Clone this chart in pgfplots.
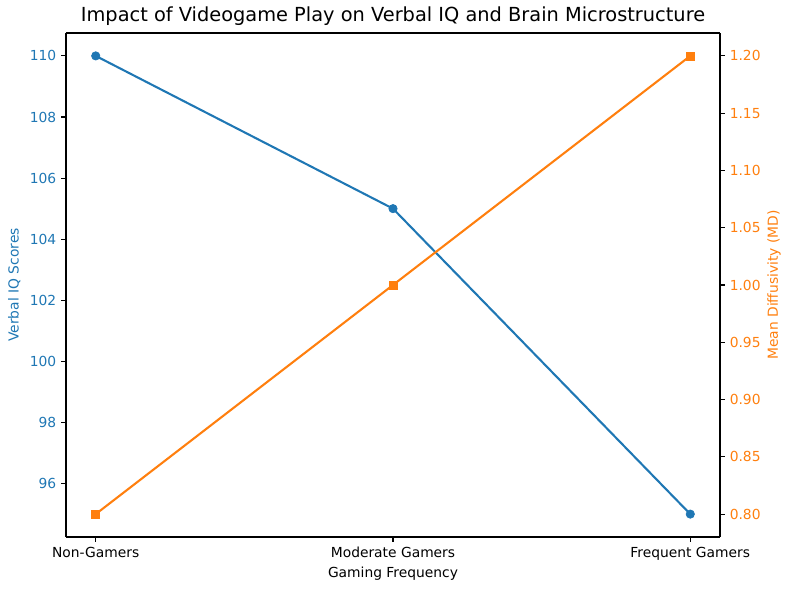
\documentclass[border=0pt]{standalone}
\usepackage{fontspec}
\setmainfont{DejaVu Sans}
\usepackage{pgfplots}
\pgfplotsset{compat=1.18}
\definecolor{cA}{HTML}{1F77B4}
\definecolor{cB}{HTML}{FF7F0E}
\begin{document}
\fontsize{10}{12}\selectfont
\begin{tikzpicture}[x=1bp,y=1bp]
\pgfplotsset{
  every axis/.style={
    scale only axis, width=470.9bp, height=362.9bp,
    xmin=-0.1, xmax=2.1,
    axis line style={line width=0.8bp},
    tick style={line width=0.8bp, black},
    major tick length=3.5bp,
    tick align=outside,
    /pgf/number format/assume math mode=true,
    tick label style={font=\fontsize{10}{12}\selectfont},
    label style={font=\fontsize{10}{12}\selectfont},
  }
}
\begin{axis}[
  name=main,
  ymin=94.25, ymax=110.75,
  ytick={96,98,...,110},
  xtick={0,1,2},
  xticklabels={Non-Gamers,Moderate Gamers,Frequent Gamers},
  axis y line*=left, axis x line*=bottom,
  yticklabel style={text=cA},
  ylabel={Verbal IQ Scores}, ylabel style={text=cA},
  xlabel={Gaming Frequency},
  xlabel style={yshift=2bp},
  title={Impact of Videogame Play on Verbal IQ and Brain Microstructure},
  title style={font=\fontsize{14}{16}\selectfont, yshift=-4bp},
]
\addplot[color=cA, line width=1.5bp, mark=*, mark size=3bp, mark options={fill=cA, draw=cA, line width=0.5bp}]
  coordinates {(0,110) (1,105) (2,95)};
\end{axis}
\begin{axis}[
  ymin=0.78, ymax=1.22,
  ytick={0.80,0.85,...,1.20},
  axis y line*=right, axis x line=none,
  yticklabel style={text=cB, /pgf/number format/.cd, fixed, fixed zerofill, precision=2},
  ylabel={Mean Diffusivity (MD)}, ylabel style={text=cB, yshift=2bp},
]
\addplot[color=cB, line width=1.5bp, mark=square*, mark size=2.9bp, mark options={fill=cB, draw=cB, line width=0.5bp}]
  coordinates {(0,0.80) (1,1.00) (2,1.20)};
\end{axis}
\draw[line width=0.8bp] (main.north west) -- (main.north east);
\useasboundingbox ([xshift=-47.52bp,yshift=-38.16bp]main.south west) rectangle ([xshift=50.4bp,yshift=23.76bp]main.north east);
\end{tikzpicture}
\end{document}
